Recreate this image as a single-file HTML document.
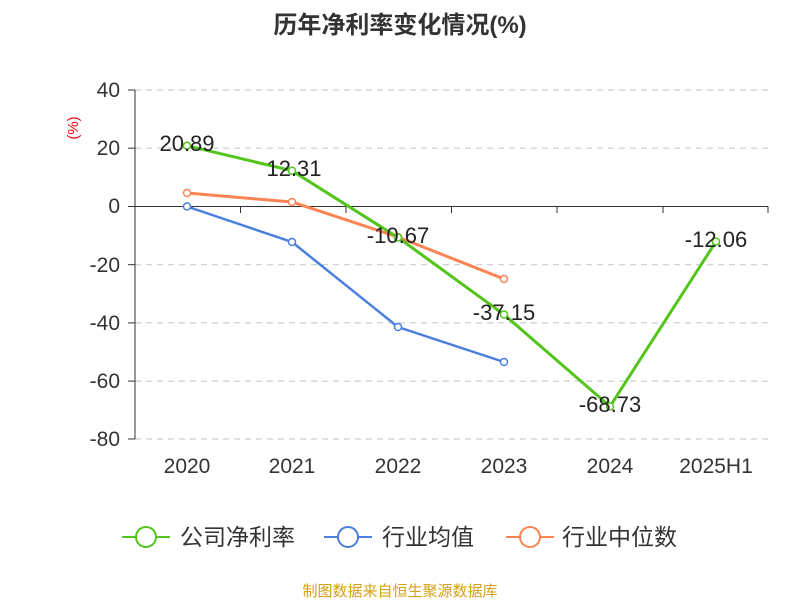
<!DOCTYPE html>
<html><head><meta charset="utf-8"><style>
body{margin:0;background:#fff;width:800px;height:600px;overflow:hidden}
text{font-family:"Liberation Sans","Noto Sans CJK SC",sans-serif}
</style></head><body>
<svg width="800" height="600" viewBox="0 0 800 600">
<text x="400" y="33" text-anchor="middle" font-size="24" font-weight="bold" fill="#333">历年净利率变化情况(%)</text>
<text x="78" y="128" font-size="15" fill="#e00" transform="rotate(-90 78 128)" text-anchor="middle">(%)</text>
<g stroke="#ccc" stroke-dasharray="6,5" stroke-width="1.2">
<line x1="135" x2="768" y1="90" y2="90"/><line x1="135" x2="768" y1="148.2" y2="148.2"/>
<line x1="135" x2="768" y1="264.7" y2="264.7"/><line x1="135" x2="768" y1="322.9" y2="322.9"/>
<line x1="135" x2="768" y1="381.1" y2="381.1"/><line x1="135" x2="768" y1="439" y2="439"/>
</g>
<g stroke="#333" stroke-width="1">
<line x1="135" x2="135" y1="90" y2="439"/>
<line x1="135" x2="768" y1="206.5" y2="206.5"/>
<line x1="128" x2="135" y1="90" y2="90"/><line x1="128" x2="135" y1="148.2" y2="148.2"/>
<line x1="128" x2="135" y1="206.5" y2="206.5"/><line x1="128" x2="135" y1="264.7" y2="264.7"/>
<line x1="128" x2="135" y1="322.9" y2="322.9"/><line x1="128" x2="135" y1="381.1" y2="381.1"/>
<line x1="128" x2="135" y1="439" y2="439"/>
<line x1="240.5" x2="240.5" y1="206.5" y2="213"/><line x1="346" x2="346" y1="206.5" y2="213"/>
<line x1="451.5" x2="451.5" y1="206.5" y2="213"/><line x1="557" x2="557" y1="206.5" y2="213"/>
<line x1="663" x2="663" y1="206.5" y2="213"/><line x1="768" x2="768" y1="206.5" y2="213"/>
</g>
<g font-size="21" fill="#333" text-anchor="end">
<text x="120" y="97">40</text><text x="120" y="155">20</text><text x="120" y="213">0</text>
<text x="120" y="272">-20</text><text x="120" y="330">-40</text><text x="120" y="388">-60</text><text x="120" y="446">-80</text>
</g>
<g font-size="21" fill="#333" text-anchor="middle">
<text x="187" y="473">2020</text><text x="292" y="473">2021</text><text x="398" y="473">2022</text>
<text x="504" y="473">2023</text><text x="610" y="473">2024</text><text x="716" y="473">2025H1</text>
</g>
<g fill="#fff" stroke-width="3">
<polyline fill="none" stroke="#4a7fe0" stroke-width="2.5" points="187,206.5 292,242 398,327 504,362"/>
<polyline fill="none" stroke="#fc8452" stroke-width="3" points="187,193 292,202 398,237 504,279"/>
<polyline fill="none" stroke="#52c41a" stroke-width="3" points="187,145.7 292,170.7 398,237.5 504,314.5 610,406.4 716,241.6"/>
</g>
<g fill="#fff" stroke-width="1.5">
<g stroke="#4a7fe0"><circle cx="187" cy="206.5" r="3.5"/><circle cx="292" cy="242" r="3.5"/><circle cx="398" cy="327" r="3.5"/><circle cx="504" cy="362" r="3.5"/></g>
<g stroke="#fc8452"><circle cx="187" cy="193" r="3.5"/><circle cx="292" cy="202" r="3.5"/><circle cx="398" cy="237" r="3.5"/><circle cx="504" cy="279" r="3.5"/></g>
<g stroke="#52c41a"><circle cx="187" cy="145.7" r="3.5"/><circle cx="292" cy="170.7" r="3.5"/><circle cx="398" cy="237.5" r="3.5"/><circle cx="504" cy="314.5" r="3.5"/><circle cx="610" cy="406.4" r="3.5"/><circle cx="716" cy="241.6" r="3.5"/></g>
</g>
<g font-size="22" fill="#222" text-anchor="middle">
<text x="187" y="151">20.89</text><text x="294" y="176">12.31</text><text x="398" y="243">-10.67</text>
<text x="504" y="320">-37.15</text><text x="610" y="412">-68.73</text><text x="716" y="247">-12.06</text>
</g>
<g stroke-width="2" fill="#fff">
<line x1="122" x2="170" y1="537" y2="537" stroke="#52c41a"/><circle cx="146" cy="537" r="10" stroke="#52c41a"/>
<line x1="324" x2="372" y1="537" y2="537" stroke="#4a7fe0"/><circle cx="348" cy="537" r="10" stroke="#4a7fe0"/>
<line x1="506" x2="554" y1="537" y2="537" stroke="#fc8452"/><circle cx="530" cy="537" r="10" stroke="#fc8452"/>
</g>
<g font-size="23" fill="#333">
<text x="180" y="545">公司净利率</text><text x="382" y="545">行业均值</text><text x="562" y="545">行业中位数</text>
</g>
<text x="400" y="596" text-anchor="middle" font-size="15" fill="#d4a017">制图数据来自恒生聚源数据库</text>
</svg>
</body></html>
